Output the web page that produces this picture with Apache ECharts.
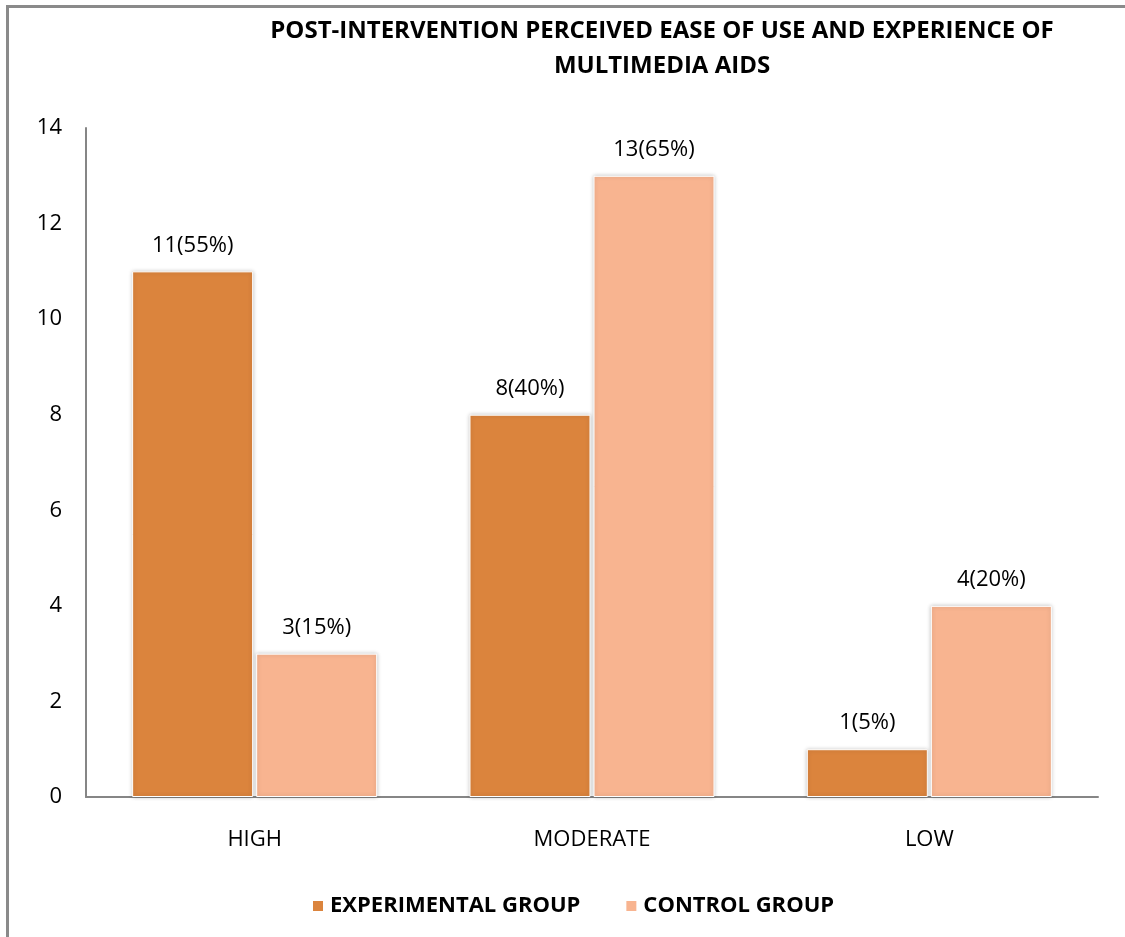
<!DOCTYPE html>
<html>
<head>
<meta charset="utf-8">
<script src="https://cdn.jsdelivr.net/npm/echarts@6/dist/echarts.min.js"></script>
<style>
  html, body { margin: 0; padding: 0; background: #fff; }
  #chart { width: 1125px; height: 937px; }
</style>
</head>
<body>
<div id="chart"></div>
<script>
// Perceived ease of use and experience of multimedia aids, after intervention
const categories = ['HIGH', 'MODERATE', 'LOW'];
const experimentalCounts = [11, 8, 1];
const experimentalPercents = [55, 40, 5];
const controlCounts = [3, 13, 4];
const controlPercents = [15, 65, 20];
const yTicks = [0, 2, 4, 6, 8, 10, 12, 14];

const FONT = '"Open Sans", "Noto Sans", sans-serif';
const chart = echarts.init(document.getElementById('chart'), null, { renderer: 'canvas' });

function labelFor(percents) {
  return p => p.value + '(' + percents[p.dataIndex] + '%)';
}

const barStyle = color => ({
  color: color,
  borderColor: '#ffffff',
  borderWidth: 1,
  shadowBlur: 4,
  shadowColor: 'rgba(0,0,0,0.22)'
});

const valueLabel = percents => ({
  show: true, position: 'top', distance: 15,
  formatter: labelFor(percents),
  fontFamily: FONT, fontSize: 22, color: '#000'
});

chart.setOption({
  animation: false,
  backgroundColor: '#ffffff',
  title: {
    text: 'POST-INTERVENTION PERCEIVED EASE OF USE AND EXPERIENCE OF\nMULTIMEDIA AIDS',
    left: 657,
    top: 9,
    textAlign: 'center',
    textStyle: {
      fontFamily: FONT,
      fontWeight: 'bold',
      fontSize: 24,
      lineHeight: 35,
      color: '#000'
    }
  },
  graphic: [{
    type: 'polyline',
    shape: { points: [[7.5, 940], [7.5, 6.5], [1130, 6.5]] },
    style: { stroke: '#8a8a8a', lineWidth: 3, fill: null },
    silent: true
  }],
  legend: {
    bottom: 15,
    left: 306,
    itemWidth: 12,
    itemHeight: 12,
    itemGap: 44,
    icon: 'rect',
    textStyle: { fontFamily: FONT, fontWeight: 'bold', fontSize: 22, color: '#000', padding: [0, 0, 0, 1] },
    data: ['EXPERIMENTAL GROUP', 'CONTROL GROUP']
  },
  grid: { left: 86, right: 27, top: 128, bottom: 140 },
  xAxis: {
    type: 'category',
    data: categories,
    axisLine: { lineStyle: { color: '#868686', width: 2 } },
    axisTick: { show: false },
    axisLabel: { fontFamily: FONT, fontSize: 22, color: '#000', margin: 32 }
  },
  yAxis: {
    type: 'value',
    min: yTicks[0],
    max: yTicks[yTicks.length - 1],
    interval: 2,
    axisLine: { show: true, lineStyle: { color: '#868686', width: 2 } },
    axisTick: { show: false },
    splitLine: { show: false },
    axisLabel: { fontFamily: FONT, fontSize: 22, color: '#000', margin: 24 }
  },
  series: [
    {
      name: 'EXPERIMENTAL GROUP',
      type: 'bar',
      data: experimentalCounts,
      barWidth: 121,
      barGap: '2.5%',
      itemStyle: barStyle('#db843d'),
      label: valueLabel(experimentalPercents)
    },
    {
      name: 'CONTROL GROUP',
      type: 'bar',
      data: controlCounts,
      barWidth: 121,
      barGap: '2.5%',
      itemStyle: barStyle('#f8b490'),
      label: valueLabel(controlPercents)
    }
  ]
});
</script>
</body>
</html>
